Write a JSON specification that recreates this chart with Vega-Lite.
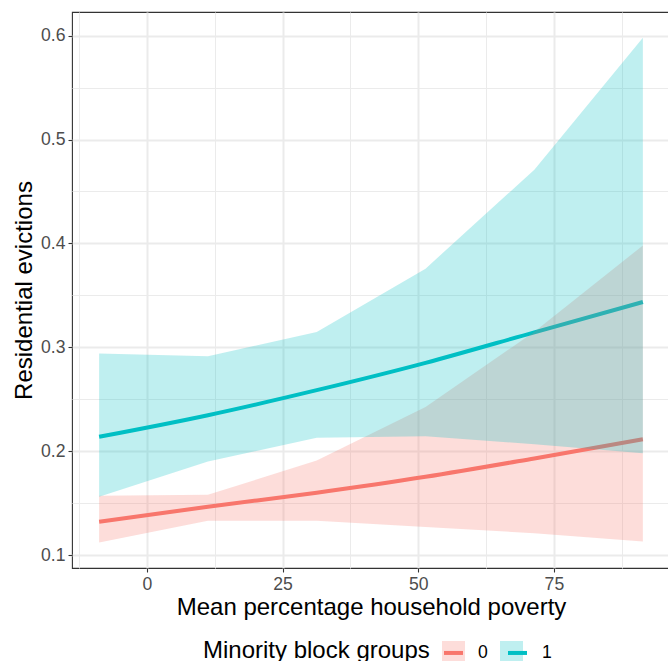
{
  "$schema": "https://vega.github.io/schema/vega-lite/v6.json",
  "width": 598,
  "height": 556,
  "autosize": {"type": "none"},
  "padding": {"left": 72, "top": 12, "right": 0, "bottom": 93},
  "background": "white",
  "config": {
    "font": "Liberation Sans",
    "view": {"stroke": "#333333", "strokeWidth": 1.1}
  },
  "datasets": {
    "fit": [
      {"x": -8.8, "group": "0", "fit": 0.132},
      {"x": 11.25, "group": "0", "fit": 0.1465},
      {"x": 31.3, "group": "0", "fit": 0.160},
      {"x": 51.35, "group": "0", "fit": 0.1753},
      {"x": 71.4, "group": "0", "fit": 0.193},
      {"x": 91.4, "group": "0", "fit": 0.2115},
      {"x": -8.8, "group": "1", "fit": 0.2138},
      {"x": 11.25, "group": "1", "fit": 0.2346},
      {"x": 31.3, "group": "1", "fit": 0.2587},
      {"x": 51.35, "group": "1", "fit": 0.285},
      {"x": 71.4, "group": "1", "fit": 0.3144},
      {"x": 91.4, "group": "1", "fit": 0.3436}
    ],
    "band": [
      {"x": -8.8, "group": "0", "lower": 0.112, "upper": 0.157},
      {"x": 11.25, "group": "0", "lower": 0.133, "upper": 0.158},
      {"x": 31.3, "group": "0", "lower": 0.133, "upper": 0.191},
      {"x": 51.35, "group": "0", "lower": 0.127, "upper": 0.2426},
      {"x": 71.4, "group": "0", "lower": 0.121, "upper": 0.315},
      {"x": 91.4, "group": "0", "lower": 0.113, "upper": 0.398},
      {"x": -8.8, "group": "1", "lower": 0.156, "upper": 0.294},
      {"x": 11.25, "group": "1", "lower": 0.19, "upper": 0.2913},
      {"x": 31.3, "group": "1", "lower": 0.2128, "upper": 0.3147},
      {"x": 51.35, "group": "1", "lower": 0.2144, "upper": 0.3757},
      {"x": 71.4, "group": "1", "lower": 0.2067, "upper": 0.471},
      {"x": 91.4, "group": "1", "lower": 0.198, "upper": 0.598}
    ]
  },
  "encoding": {
    "x": {
      "field": "x",
      "type": "quantitative",
      "scale": {"domain": [-13.8, 96.4], "nice": false, "zero": false},
      "axis": {
        "title": "Mean percentage household poverty",
        "values": [-12.5, 0, 12.5, 25, 37.5, 50, 62.5, 75, 87.5],
        "labelExpr": "datum.value % 25 === 0 ? datum.label : ''",
        "domain": false,
        "grid": true,
        "gridColor": "#EBEBEB",
        "gridWidth": {"condition": {"test": "datum.value % 25 === 0", "value": 2}, "value": 1},
        "tickColor": "#333333",
        "tickOpacity": {"condition": {"test": "datum.value % 25 === 0", "value": 1}, "value": 0},
        "tickSize": 4,
        "tickWidth": 1.1,
        "labelColor": "#4D4D4D",
        "labelFont": "Liberation Sans",
        "labelFontSize": 17.6,
        "labelPadding": 3,
        "labelOverlap": false,
        "labelFlush": false,
        "titleFont": "Liberation Sans",
        "titleFontSize": 24,
        "titleFontWeight": "normal",
        "titleColor": "#000000",
        "titlePadding": 3
      }
    }
  },
  "layer": [
    {
      "data": {"name": "fit"},
      "mark": {"type": "line", "strokeWidth": 4, "interpolate": "monotone"},
      "encoding": {
        "y": {
          "field": "fit",
          "type": "quantitative",
          "scale": {"domain": [0.0875, 0.6228], "nice": false, "zero": false},
          "axis": {
            "title": "Residential evictions",
            "values": [0.1, 0.15, 0.2, 0.25, 0.3, 0.35, 0.4, 0.45, 0.5, 0.55, 0.6],
            "labelExpr": "abs(datum.value*10 - round(datum.value*10)) < 0.001 ? format(datum.value, '.1f') : ''",
            "domain": false,
            "grid": true,
            "gridColor": "#EBEBEB",
            "gridWidth": {"condition": {"test": "abs(datum.value*10 - round(datum.value*10)) < 0.001", "value": 2}, "value": 1},
            "tickColor": "#333333",
            "tickOpacity": {"condition": {"test": "abs(datum.value*10 - round(datum.value*10)) < 0.001", "value": 1}, "value": 0},
            "tickSize": 4,
            "tickWidth": 1.1,
            "labelColor": "#4D4D4D",
            "labelFont": "Liberation Sans",
            "labelFontSize": 17.6,
            "labelPadding": 3,
            "labelOverlap": false,
            "labelFlush": false,
            "titleFont": "Liberation Sans",
            "titleFontSize": 24,
            "titleFontWeight": "normal",
            "titleColor": "#000000",
            "titlePadding": 4
          }
        },
        "stroke": {
          "field": "group",
          "type": "nominal",
          "scale": {"range": ["#F8766D", "#00BFC4"]},
          "legend": {
            "orient": "none",
            "legendX": 131,
            "legendY": 629,
            "direction": "horizontal",
            "title": "Minority block groups",
            "titleOrient": "left",
            "titleAnchor": "middle",
            "titleBaseline": "middle",
            "titleLimit": 500,
            "titleFont": "Liberation Sans",
            "titleFontSize": 24,
            "titleFontWeight": "normal",
            "titleColor": "#000000",
            "titlePadding": 12,
            "symbolType": "stroke",
            "symbolSize": 361,
            "symbolStrokeWidth": 4,
            "labelFont": "Liberation Sans",
            "labelFontSize": 17.6,
            "labelColor": "#000000",
            "labelOffset": 13,
            "columnPadding": 12,
            "padding": 0
          }
        }
      }
    },
    {
      "data": {"name": "band"},
      "mark": {"type": "area", "opacity": 0.25},
      "encoding": {
        "y": {
          "field": "lower",
          "type": "quantitative",
          "scale": {"domain": [0.0875, 0.6228], "nice": false, "zero": false},
          "title": "Residential evictions"
        },
        "y2": {"field": "upper"},
        "fill": {
          "field": "group",
          "type": "nominal",
          "scale": {"range": ["#F8766D", "#00BFC4"]},
          "legend": {
            "orient": "none",
            "legendX": 131,
            "legendY": 629,
            "direction": "horizontal",
            "title": "Minority block groups",
            "titleOrient": "left",
            "titleAnchor": "middle",
            "titleBaseline": "middle",
            "titleLimit": 500,
            "titleFont": "Liberation Sans",
            "titleFontSize": 24,
            "titleFontWeight": "normal",
            "titleOpacity": 0,
            "titlePadding": 12,
            "symbolType": "square",
            "symbolSize": 529,
            "symbolStrokeWidth": 0,
            "symbolOpacity": 0.25,
            "labelFont": "Liberation Sans",
            "labelFontSize": 17.6,
            "labelOpacity": 0,
            "labelOffset": 13,
            "columnPadding": 12,
            "padding": 0
          }
        }
      }
    }
  ]
}
